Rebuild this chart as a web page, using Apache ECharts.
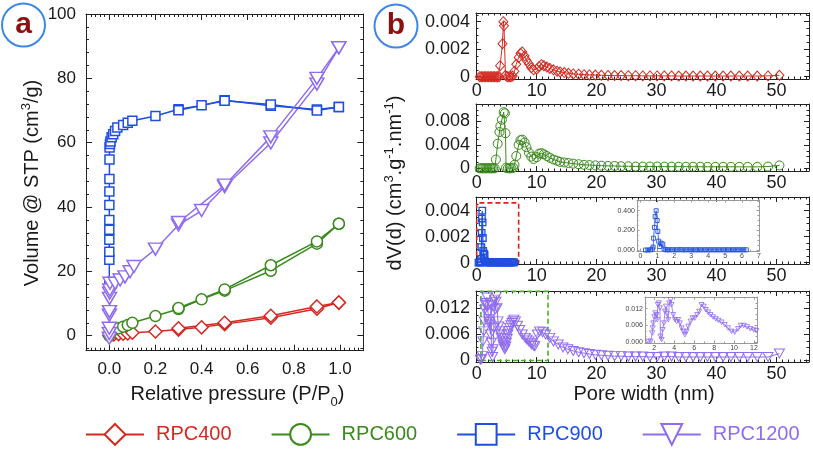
<!DOCTYPE html>
<html><head><meta charset="utf-8">
<script src="https://cdn.jsdelivr.net/npm/echarts@6/dist/echarts.min.js"></script>
<style>html,body{margin:0;padding:0;background:#fff}#c{width:813px;height:453px}</style>
</head><body><div id="c"></div>
<script>
// ================= DATA =================
const sampleNames = ['RPC400', 'RPC600', 'RPC900', 'RPC1200'];

// ---- panel a : isotherms (relative pressure, volume cm3/g) ----
const p400Ads = [0.00005, 0.002, 0.01, 0.02, 0.04, 0.06, 0.08, 0.1, 0.2, 0.3, 0.4, 0.5, 0.7, 0.9, 0.995];
const v400Ads = [0.0, 0.2, 0.3, 0.4, 0.5, 0.6, 0.7, 0.9, 1.3, 1.9, 2.6, 3.6, 5.6, 8.4, 10.3];
const p400Des = [0.995, 0.9, 0.7, 0.5, 0.3];
const v400Des = [10.3, 9.1, 6.2, 4.0, 2.3];

const p600Ads = [0.00005, 0.001, 0.005, 0.02, 0.04, 0.06, 0.08, 0.1, 0.2, 0.3, 0.4, 0.5, 0.7, 0.9, 0.995];
const v600Ads = [0.0, 0.6, 1.2, 1.8, 2.3, 2.8, 3.3, 4.0, 6.1, 8.3, 11.3, 14.0, 20.2, 28.6, 34.8];
const p600Des = [0.995, 0.9, 0.7, 0.5, 0.3];
const v600Des = [34.8, 29.3, 21.9, 14.4, 8.6];

const p900Ads = [0.00001, 0.00002, 0.00004, 0.00007, 0.0001, 0.00015, 0.0002, 0.0003, 0.0005, 0.0008, 0.0012, 0.003, 0.005, 0.01, 0.017, 0.025, 0.035, 0.06, 0.08, 0.1, 0.2, 0.3, 0.4, 0.5, 0.7, 0.9, 0.995];
const v900Ads = [15.6, 23.6, 26.1, 29.8, 32.9, 36.0, 40.6, 44.8, 48.7, 54.8, 58.5, 59.6, 60.4, 61.7, 62.6, 63.6, 64.7, 65.5, 66.2, 66.8, 68.3, 70.4, 71.6, 73.2, 71.5, 70.3, 71.1];
const p900Des = [0.995, 0.9, 0.7, 0.5, 0.3];
const v900Des = [71.1, 70.0, 71.9, 73.0, 70.1];

const p1200Ads = [0.00001, 0.00003, 0.0001, 0.0003, 0.0006, 0.001, 0.0015, 0.002, 0.003, 0.025, 0.047, 0.068, 0.09, 0.107, 0.2, 0.3, 0.4, 0.5, 0.7, 0.9, 0.995];
const v1200Ads = [-0.8, 0.7, 2.3, 6.4, 7.5, 11.6, 13.2, 14.2, 16.3, 16.3, 17.3, 18.3, 19.9, 21.5, 26.9, 34.4, 38.9, 46.3, 59.9, 78.2, 89.5];
const p1200Des = [0.995, 0.9, 0.7, 0.5, 0.3];
const v1200Des = [89.5, 80.0, 61.8, 46.8, 35.2];

// ---- panel b : pore size distributions (pore width nm, dV(d)) ----
const w400 = [0.5,0.75,1,1.25,1.5,1.75,2,2.25,2.5,2.75,3,3.25,3.5,3.75,
  3.9,4.3,4.45,4.55,4.8,
  5.1,5.4,5.7,6.0,
  6.3,6.6,7.0,7.3,7.6,8.0,8.3,8.7,9.1,9.5,
  10.0,10.4,10.8,11.2,11.7,12.2,12.8,13.4,13.9,14.6,
  15.3,16.1,17.0,17.9,18.8,19.8,20.8,21.9,23.0,24.1,
  25.3,26.5,27.7,28.9,30.1,31.3,32.5,33.7,34.9,36.1,
  37.3,38.5,39.8,41.1,42.4,43.8,45.2,46.8,48.6,50.5];
const dv400 = [0,0,0,0,0,0,0,0,0,0,0,0,0,0,
  0.0008,0.0024,0.0040,0.0037,0.0001,
  0,0,0,0.00005,
  0.0004,0.0009,0.0014,0.0017,0.0018,0.0015,0.0012,0.00095,0.00065,0.0005,
  0.00055,0.00075,0.00087,0.0008,0.0007,0.0006,0.0005,0.0004,0.00035,0.0003,
  0.00025,0.0002,0.00018,0.00015,0.00013,0.00012,0.0001,0.00009,0.00008,0.00008,
  0.00007,0.00007,0.00006,0.00006,0.00006,0.00006,0.00006,0.00005,0.00005,0.00005,
  0.00005,0.00005,0.00005,0.00005,0.00005,0.00005,0.00005,0.00005,0.00006,0.0001];

const w600 = [0.5,0.75,1,1.25,1.5,1.75,2,2.25,2.5,2.75,3.0,
  3.2,3.5,3.8,3.95,4.2,4.5,4.7,4.8,4.9,
  5.2,5.5,5.8,6.1,
  6.3,6.6,7.0,7.3,7.6,8.0,8.3,8.7,9.1,9.5,
  10.0,10.4,10.8,11.2,11.7,12.2,12.8,13.4,13.9,14.6,
  15.3,16.1,17.0,17.9,18.8,19.8,20.8,21.9,23.0,24.1,
  25.3,26.5,27.7,28.9,30.1,31.3,32.5,33.7,34.9,36.1,
  37.3,38.5,39.8,41.1,42.4,43.8,45.2,46.8,48.6,50.5];
const dv600 = [0,0,0,0,0,0,0,0,0,0,0,
  0.0015,0.0042,0.0062,0.0072,0.0083,0.0096,0.0094,0.006,0.0001,
  0,0,0,0.0001,
  0.0006,0.0021,0.004,0.0048,0.0049,0.0044,0.0036,0.0027,0.002,0.0016,
  0.0019,0.0025,0.0026,0.0024,0.0021,0.0018,0.0015,0.0013,0.0011,0.001,
  0.0009,0.0008,0.0007,0.0006,0.00055,0.0005,0.00045,0.0004,0.0004,0.00035,
  0.00035,0.0003,0.0003,0.0003,0.0003,0.00028,0.00028,0.00028,0.00027,0.00027,
  0.00027,0.00026,0.00026,0.00026,0.00026,0.00025,0.00025,0.00025,0.0003,0.0005];

const w900 = [0.3,0.45,0.6,0.7,0.75,0.78,0.83,0.87,0.93,0.99,1.03,1.08,1.14,1.22,1.32,1.4,1.5,
  1.6,1.75,1.9,2.05,2.2,2.35,2.5,2.65,2.8,2.95,3.1,3.25,3.4,3.55,3.7,3.85,
  4.0,4.15,4.3,4.45,4.6,4.75,4.9,5.05,5.2,5.35,5.5,5.65,5.8,5.95,6.1,6.25];
const dv900 = [0,0,0.00002,0.0001,0.0003,0.0012,0.0023,0.0034,0.0040,0.0031,0.0019,0.0009,0.00035,0.0007,0.0006,0.0001,0.00003,
  0.00002,0.00002,0.00003,0.00002,0.00002,0.00004,0.00002,0.00002,0.00003,0.00002,0.00002,0.00002,0.00002,0.00002,0.00002,0.00002,
  0.00002,0.00002,0.00002,0.00002,0.00002,0.00002,0.00002,0.00002,0.00002,0.00002,0.00002,0.00002,0.00002,0.00002,0.00002,0.00002];
const dv900Inset = [0,0,0.002,0.01,0.03,0.12,0.23,0.34,0.40,0.30,0.19,0.09,0.035,0.07,0.06,0.01,0.003,
  0.002,0.002,0.003,0.002,0.002,0.004,0.002,0.002,0.003,0.002,0.002,0.002,0.002,0.002,0.002,0.002,
  0.002,0.002,0.002,0.002,0.002,0.002,0.002,0.002,0.002,0.002,0.002,0.002,0.002,0.002,0.002,0.002];

const w1200 = [0.6,0.8,0.95,1.05,1.17,1.25,1.33,1.45,1.6,1.7,
  1.8,1.9,2.0,2.1,2.17,2.28,2.38,2.45,2.55,2.65,
  2.72,2.85,3.0,3.1,3.2,3.28,3.4,3.55,3.7,3.83,
  3.95,4.1,4.25,4.4,4.55,4.7,4.85,4.95,5.1,5.2,
  5.35,5.5,5.7,5.9,6.05,6.2,6.45,6.8,7.17,7.6,
  8.1,8.4,8.7,9.0,9.2,9.5,9.7,10.1,10.5,11.0,
  11.5,12.2,12.8,13.6,14.4,15.2,16.1,17.0,17.9,18.8,
  19.8,20.8,21.9,23.0,24.1,25.3,26.5,27.7,28.9,30.1,
  31.3,32.5,33.7,34.9,36.1,37.3,38.5,39.8,41.1,42.4,
  43.8,45.2,46.8,48.6,50.5];
const dv1200 = [0.0002,0.0003,0.001,0.0044,0.0067,0.009,0.0117,0.0128,0.0132,0.0145,
  0.0125,0.0108,0.0095,0.0088,0.0083,0.006,0.0128,0.0041,0.002,0.0008,
  0.0026,0.0075,0.014,0.0118,0.0135,0.0148,0.012,0.009,0.0078,0.0067,
  0.006,0.0052,0.0044,0.0036,0.003,0.0026,0.0032,0.0041,0.005,0.006,
  0.0068,0.0075,0.0081,0.0086,0.009,0.0094,0.009,0.008,0.007,0.006,
  0.0052,0.0048,0.0044,0.004,0.0037,0.0034,0.0033,0.006,0.0067,0.0065,
  0.006,0.0052,0.0044,0.0037,0.003,0.0026,0.0022,0.0019,0.0017,0.0015,
  0.0013,0.0012,0.0011,0.001,0.001,0.0009,0.0009,0.0009,0.0008,0.0008,
  0.0009,0.0009,0.0008,0.0008,0.0008,0.0008,0.0008,0.0008,0.0008,0.0008,
  0.0008,0.0008,0.0008,0.0008,0.0016];
const w1200Inset = [1.4,1.64,1.8,1.84,1.9,2.0,2.1,2.24,2.3,2.35,
  2.47,2.57,2.62,2.74,2.84,2.97,3.07,3.17,3.27,3.4,
  3.5,3.63,3.73,3.9,4.07,4.24,4.4,4.57,4.74,4.9,
  5.07,5.24,5.4,5.64,5.84,6.07,6.3,6.5,6.74,6.97,
  7.17,7.4,7.64,7.9,8.17,8.44,8.74,9.07,9.4,9.74,
  10.07,10.4,10.67,10.97,11.3,11.64,11.97,12.24];
const dv1200Inset = [0.0002,0.0002,0.0032,0.005,0.0068,0.009,0.0104,0.0098,0.008,0.0134,
  0.014,0.0122,0.002,0.0008,0.0044,0.0068,0.011,0.0128,0.0102,0.008,
  0.014,0.0152,0.0134,0.0098,0.008,0.0074,0.008,0.0068,0.005,0.0038,
  0.0026,0.0038,0.0056,0.0074,0.0086,0.0086,0.0098,0.011,0.0134,0.0128,
  0.0116,0.0107,0.0098,0.009,0.0083,0.0077,0.0071,0.0062,0.005,0.0038,
  0.0035,0.0047,0.0059,0.0059,0.0054,0.0047,0.0043,0.004];

// tick labels
const pressureTicks = [0, 0.2, 0.4, 0.6, 0.8, 1.0];
const volumeTicks = [0, 20, 40, 60, 80, 100];
const poreTicks = [0, 10, 20, 30, 40, 50];
const dvTicks400 = [0, 0.002, 0.004];
const dvTicks600 = [0, 0.004, 0.008];
const dvTicks900 = [0, 0.002, 0.004];
const dvTicks1200 = [0, 0.006, 0.012];
const insetTicks900X = [0, 1, 2, 3, 4, 5, 6, 7];
const insetTicks900Y = [0, 0.2, 0.4];
const insetTicks1200X = [2, 4, 6, 8, 10, 12];
const insetTicks1200Y = [0, 0.006, 0.012];

// ================= STYLE / BUILD =================
const FONT = '"Liberation Sans", Arial, Helvetica, sans-serif';
const INK = '#1a1a1a';
const COLORS = ['#d42a22', '#3a8a1c', '#1f4fe0', '#8f6cf0'];
const TRI = 'path://M0,0L10,0L5,9Z';

function steps(a, b, st) { const out = []; const n = Math.round((b - a) / st); for (let i = 0; i <= n; i++) out.push(+(a + i * st).toFixed(8)); return out; }
const zip = (xs, ys) => xs.map((x, i) => [x, ys[i]]);

const option = { animation: false, backgroundColor: '#fff', textStyle: { fontFamily: FONT }, grid: [], xAxis: [], yAxis: [], series: [], graphic: [] };

function frame(box, xs, ys, st) {
  const gi = option.grid.length;
  option.grid.push({ left: box.l, top: box.t, width: box.w, height: box.h, containLabel: false, outerBoundsMode: 'none',
    show: !!st.bg, backgroundColor: st.bg || 'transparent', borderWidth: 0 });
  const xi = option.xAxis.length, yi = option.yAxis.length;
  function ax(pos, s, tv, len, label, line) {
    return { type: 'value', gridIndex: gi, position: pos, min: s.min, max: s.max,
      axisLine: { show: line, onZero: false, lineStyle: { color: st.line, width: 1 } },
      axisTick: { show: true, inside: true, length: len, customValues: tv, lineStyle: { color: st.line, width: 1 } },
      axisLabel: { show: label, customValues: s.labels, formatter: s.fmt, fontSize: st.fs, color: st.ink, margin: s.margin, fontFamily: FONT },
      splitLine: { show: false }, minorTick: { show: false } };
  }
  option.xAxis.push(ax('bottom', xs, xs.labels, st.maj, true, true), ax('bottom', xs, xs.minor, st.min, false, false),
                    ax('top', xs, xs.labels, st.maj, false, true), ax('top', xs, xs.minor, st.min, false, false));
  option.yAxis.push(ax('left', ys, ys.labels, st.maj, true, true), ax('left', ys, ys.minor, st.min, false, false),
                    ax('right', ys, ys.labels, st.maj, false, true), ax('right', ys, ys.minor, st.min, false, false));
  return { xAxisIndex: xi, yAxisIndex: yi };
}

function addLine(name, axes, data, o) {
  option.series.push(Object.assign({
    type: 'line', name: name, xAxisIndex: axes.xAxisIndex, yAxisIndex: axes.yAxisIndex, data: data,
    symbol: o.symbol, symbolSize: o.size, showAllSymbol: true, clip: true, silent: true,
    itemStyle: { color: o.fill, borderColor: o.color, borderWidth: o.bw },
    lineStyle: { color: o.color, width: o.lw }, emphasis: { disabled: true }
  }, o.extra || {}));
}

const mainStyle = { line: '#222', ink: INK, fs: 17, maj: 6, min: 3 };
const bStyle = { line: '#222', ink: INK, fs: 18, maj: 5, min: 2.5 };
const insetStyle = { line: '#999', ink: '#444', fs: 7, maj: 2.5, min: 1.5, bg: '#fff' };
const fmtDV = v => v === 0 ? '0' : v.toFixed(3);

// ---- panel a ----
const A = frame({ l: 86, t: 14, w: 277.3, h: 336.7 },
  { min: -0.101, max: 1.101, labels: pressureTicks, minor: steps(-0.1, 1.1, 0.02), fmt: v => v.toFixed(1), margin: 10 },
  { min: -4.66, max: 100, labels: volumeTicks, minor: steps(-4, 100, 4), fmt: v => String(v), margin: 10 }, mainStyle);

const symA = [
  { symbol: 'diamond', size: [13, 13] }, { symbol: 'circle', size: 11 },
  { symbol: 'rect', size: 9 }, { symbol: TRI, size: [14, 12] }];
const adsA = [zip(p400Ads, v400Ads), zip(p600Ads, v600Ads), zip(p900Ads, v900Ads), zip(p1200Ads, v1200Ads)];
const desA = [zip(p400Des, v400Des), zip(p600Des, v600Des), zip(p900Des, v900Des), zip(p1200Des, v1200Des)];
for (let i = 0; i < 4; i++) {
  addLine(sampleNames[i], A, adsA[i], { symbol: symA[i].symbol, size: symA[i].size, fill: '#fff', color: COLORS[i], bw: 1.5, lw: 1.5 });
}
for (let i = 0; i < 4; i++) {
  addLine(sampleNames[i], A, desA[i], { symbol: symA[i].symbol, size: symA[i].size, fill: '#fff', color: COLORS[i], bw: 1.5, lw: 1.5 });
}

// ---- panel b ----
const bx = { min: -0.117, max: 55.43, labels: poreTicks, minor: steps(0, 55, 1), fmt: v => String(v), margin: 3 };
const B1 = frame({ l: 476, t: 13, w: 333, h: 66 }, bx,
  { min: -0.000167, max: 0.004633, labels: dvTicks400, minor: steps(0, 0.0045, 0.0005), fmt: fmtDV, margin: 6 }, bStyle);
const B2 = frame({ l: 476, t: 104, w: 333, h: 67 }, bx,
  { min: -0.00046, max: 0.01099, labels: dvTicks600, minor: steps(0, 0.01, 0.001), fmt: fmtDV, margin: 6 }, bStyle);
const B3 = frame({ l: 476, t: 197, w: 333, h: 67 }, bx,
  { min: -0.0001, max: 0.005054, labels: dvTicks900, minor: steps(0, 0.005, 0.0005), fmt: fmtDV, margin: 6 }, bStyle);
const B4 = frame({ l: 476, t: 291, w: 333, h: 71 }, bx,
  { min: -0.000345, max: 0.01598, labels: dvTicks1200, minor: steps(0, 0.015, 0.0015), fmt: fmtDV, margin: 6 }, bStyle);

const hollow = 'rgba(255,255,255,0)';
addLine('RPC400', B1, zip(w400, dv400), { symbol: 'diamond', size: [9, 10], fill: hollow, color: COLORS[0], bw: 1, lw: 1 });
addLine('RPC600', B2, zip(w600, dv600), { symbol: 'circle', size: 9, fill: hollow, color: COLORS[1], bw: 1, lw: 1 });
addLine('RPC900', B3, zip(w900, dv900), { symbol: 'rect', size: 6.5, fill: hollow, color: COLORS[2], bw: 1.3, lw: 1.2,
  extra: { markArea: { silent: true, label: { show: false },
    itemStyle: { color: 'rgba(0,0,0,0)', borderColor: '#e02020', borderWidth: 1.6, borderType: [5, 3] },
    data: [[{ xAxis: 0, yAxis: 0 }, { xAxis: 7, yAxis: 0.0046 }]] } } });
addLine('RPC1200', B4, zip(w1200, dv1200), { symbol: TRI, size: [10, 9], fill: hollow, color: COLORS[3], bw: 1, lw: 1,
  extra: { markArea: { silent: true, label: { show: false },
    itemStyle: { color: 'rgba(0,0,0,0)', borderColor: '#4caf2a', borderWidth: 1.6, borderType: [5, 3] },
    data: [[{ xAxis: 0.7, yAxis: 0 }, { xAxis: 11.9, yAxis: 0.0159 }]] } } });

// ---- insets ----
const I3 = frame({ l: 637, t: 200, w: 122, h: 51 },
  { min: -0.2, max: 7, labels: insetTicks900X, minor: steps(0, 7, 0.5), fmt: v => String(v), margin: 2 },
  { min: -0.01, max: 0.509, labels: insetTicks900Y, minor: steps(0, 0.5, 0.05), fmt: v => v.toFixed(3), margin: 2 }, insetStyle);
addLine('RPC900', I3, zip(w900, dv900Inset), { symbol: 'rect', size: 4, fill: hollow, color: COLORS[2], bw: 0.9, lw: 0.8, extra: { z: 5 } });
const I4 = frame({ l: 645, t: 297, w: 112, h: 46 },
  { min: 1.07, max: 12.3, labels: insetTicks1200X, minor: steps(2, 12, 1), fmt: v => String(v), margin: 2 },
  { min: -0.0004, max: 0.0162, labels: insetTicks1200Y, minor: steps(0, 0.016, 0.002), fmt: v => v.toFixed(3), margin: 2 }, insetStyle);
addLine('RPC1200', I4, zip(w1200Inset, dv1200Inset), { symbol: TRI, size: [5, 4.5], fill: hollow, color: COLORS[3], bw: 0.8, lw: 0.8, extra: { z: 5 } });

// ---- legend ----
option.legend = {
  left: 85, top: 423, width: 728, padding: 0, orient: 'horizontal', itemWidth: 58, itemHeight: 26, itemGap: 39, selectedMode: false,
  textStyle: { fontSize: 20, fontFamily: FONT, padding: [0, 0, 0, 7] },
  itemStyle: { borderWidth: 2 }, lineStyle: { width: 2 },
  data: sampleNames.map((n, i) => ({ name: n, textStyle: { color: COLORS[i] } }))
};

// ---- badges and axis titles ----
const richBase = { fontSize: 20, lineHeight: 24, fill: INK, fontFamily: FONT };
const supS = { fontSize: 13, lineHeight: 13, verticalAlign: 'top', fill: INK, fontFamily: FONT };
option.graphic = [
  { type: 'circle', shape: { cx: 23.5, cy: 25, r: 21.5 }, style: { fill: '#fff', stroke: '#3d86e8', lineWidth: 2 }, silent: true },
  { type: 'text', x: 23.5, y: 25, style: { text: 'a', fontSize: 30, fontWeight: 'bold', fontFamily: FONT, fill: '#8b1111', align: 'center', verticalAlign: 'middle' }, silent: true },
  { type: 'circle', shape: { cx: 396, cy: 26, r: 21.5 }, style: { fill: '#fff', stroke: '#3d86e8', lineWidth: 2 }, silent: true },
  { type: 'text', x: 396, y: 26, style: { text: 'b', fontSize: 30, fontWeight: 'bold', fontFamily: FONT, fill: '#8b1111', align: 'center', verticalAlign: 'middle' }, silent: true },
  { type: 'text', x: 32, y: 183, rotation: Math.PI / 2, silent: true,
    style: { text: '{a|Volume @ STP (cm}{s|3}{a|/g)}', rich: { a: richBase, s: supS }, align: 'center', verticalAlign: 'middle' } },
  { type: 'text', x: 395, y: 183, rotation: Math.PI / 2, silent: true,
    style: { text: '{a|dV(d) (cm}{s|3}{a|.g}{s|-1}{a|.nm}{s|-1}{a|)}', rich: { a: richBase, s: supS }, align: 'center', verticalAlign: 'middle' } },
  { type: 'text', x: 237.5, y: 394, silent: true,
    style: { text: '{a|Relative pressure (P/P}{s|0}{a|)}', rich: { a: Object.assign({}, richBase, { lineHeight: 30 }), s: { fontSize: 13, lineHeight: 13, verticalAlign: 'bottom', fill: INK, fontFamily: FONT } }, align: 'center', verticalAlign: 'middle' } },
  { type: 'text', x: 644, y: 394, silent: true,
    style: { text: 'Pore width (nm)', fontSize: 20, fontFamily: FONT, fill: INK, align: 'center', verticalAlign: 'middle' } }
];

const chart = echarts.init(document.getElementById('c'), null, { renderer: 'canvas' });
chart.setOption(option);
</script>
</body></html>
